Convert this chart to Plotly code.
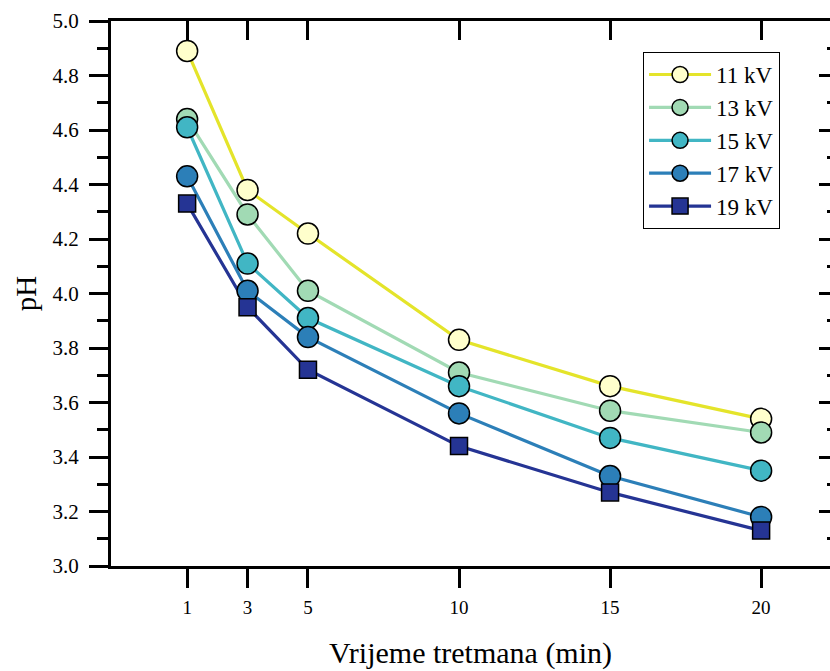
import plotly.graph_objects as go

time_min = [1, 3, 5, 10, 15, 20]
ph_11kv = [4.89, 4.38, 4.22, 3.83, 3.66, 3.54]
ph_13kv = [4.64, 4.29, 4.01, 3.71, 3.57, 3.49]
ph_15kv = [4.61, 4.11, 3.91, 3.66, 3.47, 3.35]
ph_17kv = [4.43, 4.01, 3.84, 3.56, 3.33, 3.18]
ph_19kv = [4.33, 3.95, 3.72, 3.44, 3.27, 3.13]
series_names = ["11 kV", "13 kV", "15 kV", "17 kV", "19 kV"]
x_tick_vals = [1, 3, 5, 10, 15, 20]

series = [ph_11kv, ph_13kv, ph_15kv, ph_17kv, ph_19kv]
line_colors = ["#e4e42a", "#a1dab4", "#41b6c4", "#2c7fb8", "#253494"]
fill_colors = ["#ffffcc", "#a1dab4", "#41b6c4", "#2c7fb8", "#253494"]
symbols = ["circle", "circle", "circle", "circle", "square"]
sizes = [21, 21, 21, 21, 17]

FONT = "Liberation Serif, Times New Roman, serif"

fig = go.Figure()

# lines first
for name, vals, lc in zip(series_names, series, line_colors):
    fig.add_trace(go.Scatter(
        x=time_min, y=vals, mode="lines", showlegend=False,
        line=dict(color=lc, width=3.2), hoverinfo="skip",
    ))

# markers on top
for name, vals, fc, sym, sz in zip(series_names, series, fill_colors, symbols, sizes):
    fig.add_trace(go.Scatter(
        x=time_min, y=vals, mode="markers", name=name, showlegend=False,
        marker=dict(symbol=sym, size=sz, color=fc, line=dict(color="black", width=1.5)),
    ))

# legend-only entries (line + marker)
for name, lc, fc, sym, sz in zip(series_names, line_colors, fill_colors, symbols, sizes):
    fig.add_trace(go.Scatter(
        x=[None], y=[None], mode="lines+markers", name=name, legendgroup=name,
        line=dict(color=lc, width=3.2),
        marker=dict(symbol=sym, size=sz, color=fc, line=dict(color="black", width=1.5)),
    ))

# dummy trace for mirrored top / right axes
fig.add_trace(go.Scatter(x=[None], y=[None], xaxis="x2", yaxis="y2", showlegend=False))

xrange = [-1.52, 22.28]
yrange = [3.0, 5.0]

fig.update_layout(
    width=830, height=671,
    margin=dict(l=111, r=0, t=21, b=105),
    paper_bgcolor="white", plot_bgcolor="white",
    font=dict(family=FONT, color="black"),
    showlegend=True,
    legend=dict(
        x=0.74, y=0.943, xanchor="left", yanchor="top",
        bgcolor="white", bordercolor="black", borderwidth=1,
        font=dict(family=FONT, size=23, color="black"),
        tracegroupgap=0, itemsizing="trace", itemwidth=62,
    ),
    xaxis=dict(
        range=xrange, tickmode="array", tickvals=x_tick_vals,
        ticktext=[str(v) for v in x_tick_vals],
        showgrid=False, zeroline=False,
        showline=True, linecolor="black", linewidth=3,
        ticks="outside", ticklen=19, tickwidth=3, tickcolor="black",
        tickfont=dict(family=FONT, size=19),
        ticklabelstandoff=3,
        title=dict(text="Vrijeme tretmana (min)", font=dict(family=FONT, size=30), standoff=26),
    ),
    xaxis2=dict(
        range=xrange, overlaying="x", side="top", anchor="y",
        tickmode="array", tickvals=x_tick_vals, showticklabels=False,
        showgrid=False, zeroline=False,
        showline=True, linecolor="black", linewidth=3,
        ticks="inside", ticklen=19, tickwidth=3, tickcolor="black",
    ),
    yaxis=dict(
        range=yrange, dtick=0.2, tickformat=".1f",
        showgrid=False, zeroline=False,
        showline=True, linecolor="black", linewidth=3,
        ticks="outside", ticklen=19, tickwidth=3, tickcolor="black",
        minor=dict(dtick=0.1, ticks="outside", ticklen=11, tickwidth=3, tickcolor="black"),
        tickfont=dict(family=FONT, size=21),
        ticklabelstandoff=6,
        title=dict(text="pH", font=dict(family=FONT, size=29), standoff=8),
    ),
    yaxis2=dict(
        range=yrange, dtick=0.2, overlaying="y", side="right", anchor="x",
        showticklabels=False, showgrid=False, zeroline=False, showline=False,
        ticks="inside", ticklen=11, tickwidth=3, tickcolor="black",
        minor=dict(dtick=0.1, ticks="inside", ticklen=3, tickwidth=3, tickcolor="black"),
    ),
)

fig.write_html(
    "out.html",
    config={"displayModeBar": False},
    post_script="document.body.style.margin='0';document.body.style.overflow='hidden';",
)
